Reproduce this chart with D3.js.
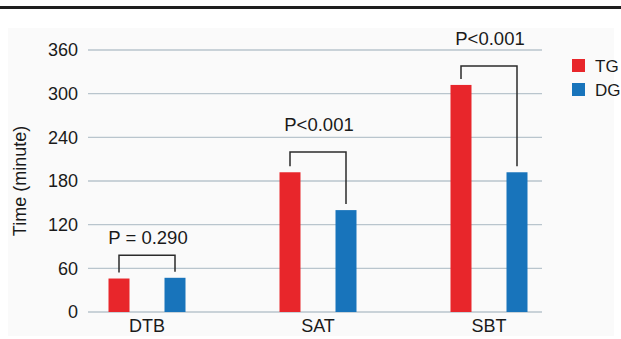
<!DOCTYPE html>
<html>
<head>
<meta charset="utf-8">
<script src="https://cdn.jsdelivr.net/npm/d3@7"></script>
<style>
body { margin:0; background:#fff; }
text { font-family:"Liberation Sans", Arial, sans-serif; fill:#1a1a1a; }
</style>
</head>
<body>
<svg id="chart"></svg>
<script>
var categories = ["DTB", "SAT", "SBT"];
var series = ["TG", "DG"];
var tgValues = [46, 192, 312];
var dgValues = [47, 140, 192];
var pLabels = ["P = 0.290", "P<0.001", "P<0.001"];
var bracketTops = [78, 220, 338];
var yTicks = [0, 60, 120, 180, 240, 300, 360];
var colors = {TG:"#e8262b", DG:"#1874bb"};

var screen = {width:621, height:339};

var svg = d3.select("#chart")
    .attr("width", screen.width)
    .attr("height", screen.height);

// top rule and light panel
svg.append("rect")
    .attr("x", 8).attr("y", 28)
    .attr("width", 606).attr("height", 308)
    .attr("fill", "#fafafa");
svg.append("rect")
    .attr("x", 0).attr("y", 6)
    .attr("width", screen.width).attr("height", 3)
    .attr("fill", "#1e1e1e");

var x = d3.scaleBand()
    .domain(categories)
    .range([61.5, 574.5]);
var y = d3.scaleLinear()
    .domain([0, 360])
    .range([312, 50]);

var gridLeft = 88, gridRight = 542;

// grid lines
svg.append("g")
    .selectAll("line")
    .data(yTicks)
    .enter()
    .append("line")
    .attr("x1", gridLeft).attr("x2", gridRight)
    .attr("y1", function(d){ return y(d); })
    .attr("y2", function(d){ return y(d); })
    .attr("stroke", "#b9c5cd")
    .attr("stroke-width", 1.3);

// y tick labels
svg.append("g")
    .selectAll("text")
    .data(yTicks)
    .enter()
    .append("text")
    .attr("x", 78)
    .attr("y", function(d){ return y(d); })
    .attr("dy", "0.35em")
    .attr("text-anchor", "end")
    .attr("font-size", 18)
    .text(function(d){ return d; });

svg.append("text")
    .attr("transform", "translate(26,181) rotate(-90)")
    .attr("text-anchor", "middle")
    .attr("font-size", 18)
    .text("Time (minute)");

var offset = 28, barW = 21;
var rows = categories.map(function(c, i){
    return {cat:c, TG:tgValues[i], DG:dgValues[i], p:pLabels[i], top:bracketTops[i], i:i};
});

var groups = svg.append("g")
    .selectAll("g")
    .data(rows)
    .enter()
    .append("g");

series.forEach(function(s, k)
{
    groups.append("rect")
        .attr("x", function(d){ return x(d.cat) + x.bandwidth()/2 + (k == 0 ? -offset : offset) - barW/2; })
        .attr("y", function(d){ return y(d[s]); })
        .attr("width", barW)
        .attr("height", function(d){ return y(0) - y(d[s]); })
        .attr("fill", colors[s]);
});

// brackets
groups.append("path")
    .attr("d", function(d)
    {
        var cx = x(d.cat) + x.bandwidth()/2;
        var l = cx - offset, r = cx + offset;
        var t = y(d.top);
        return "M" + l + "," + (y(d.TG) - 6) + "V" + t + "H" + r + "V" + (y(d.DG) - 6);
    })
    .attr("fill", "none")
    .attr("stroke", "#2b2b2b")
    .attr("stroke-width", 1.5);

// label gap above bracket (first one sits tighter)
var labelGap = function(i){ return i == 0 ? 11 : 21; };

groups.append("text")
    .attr("x", function(d){ return x(d.cat) + x.bandwidth()/2 + 1; })
    .attr("y", function(d){ return y(d.top) - labelGap(d.i); })
    .attr("text-anchor", "middle")
    .attr("font-size", 18.5)
    .text(function(d){ return d.p; });

// x labels
svg.append("g")
    .selectAll("text")
    .data(categories)
    .enter()
    .append("text")
    .attr("x", function(d){ return x(d) + x.bandwidth()/2; })
    .attr("y", 332)
    .attr("text-anchor", "middle")
    .attr("font-size", 18)
    .text(function(d){ return d; });

// legend
var legend = svg.append("g")
    .selectAll("g")
    .data(series)
    .enter()
    .append("g")
    .attr("transform", function(d, i){ return "translate(572," + (59 + i*24) + ")"; });
legend.append("rect")
    .attr("width", 13).attr("height", 13)
    .attr("fill", function(d){ return colors[d]; });
legend.append("text")
    .attr("x", 23).attr("y", 7)
    .attr("dy", "0.35em")
    .attr("font-size", 17)
    .text(function(d){ return d; });
</script>
</body>
</html>
